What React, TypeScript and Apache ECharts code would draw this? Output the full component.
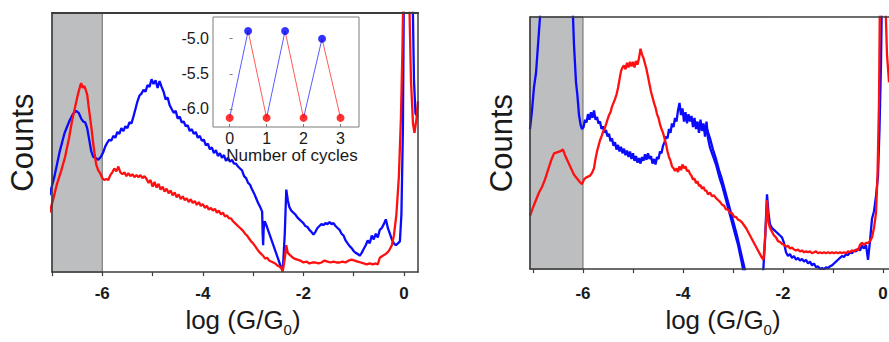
import React, { useEffect, useRef } from "react";
import * as echarts from "echarts";

// ---- axis / tick data ----
const mainTicks = [-7, -6, -5, -4, -3, -2, -1, 0];
const mainLabels = [-6, -4, -2, 0];
const shadeFrom = -7.1;
const shadeTo = -6;
const insetXTicks = [0, 1, 2, 3];
const insetYTicks = [-6.0, -5.5, -5.0];

// ---- inset data (number of cycles vs log G) ----
const insetLowX = [0, 1, 2, 3];
const insetLowY = [-6.13, -6.13, -6.13, -6.13];
const insetHighX = [0.5, 1.5, 2.5];
const insetHighY = [-4.89, -4.89, -5.0];

// ---- left panel histograms [logG, counts] ----
const leftBlue: number[][] = [
  [-7.05, 80], [-6.95, 100], [-6.85, 125], [-6.75, 145], [-6.65, 158], [-6.58, 165], [-6.52, 168], [-6.47, 166],
  [-6.42, 160], [-6.38, 157], [-6.34, 156], [-6.3, 150], [-6.26, 138], [-6.22, 126], [-6.18, 120], [-6.13, 119],
  [-6.08, 117], [-6.03, 120], [-5.98, 125], [-5.94, 131], [-5.9, 135], [-5.86, 138], [-5.82, 137], [-5.78, 142],
  [-5.74, 140], [-5.7, 146], [-5.66, 144], [-5.62, 150], [-5.58, 147], [-5.54, 152], [-5.5, 150], [-5.46, 156],
  [-5.42, 155], [-5.38, 162], [-5.34, 170], [-5.3, 178], [-5.26, 184], [-5.22, 186], [-5.18, 190], [-5.14, 188],
  [-5.1, 195], [-5.06, 193], [-5.02, 201], [-4.98, 196], [-4.94, 200], [-4.9, 192], [-4.86, 199], [-4.82, 193],
  [-4.78, 188], [-4.74, 180], [-4.7, 182], [-4.66, 174], [-4.62, 170], [-4.58, 166], [-4.54, 168], [-4.5, 160],
  [-4.46, 162], [-4.42, 156], [-4.38, 157], [-4.34, 152], [-4.3, 153], [-4.26, 147], [-4.22, 149], [-4.18, 144],
  [-4.14, 146], [-4.1, 140], [-4.06, 142], [-4.02, 137], [-3.98, 138], [-3.94, 132], [-3.9, 134], [-3.86, 128],
  [-3.82, 130], [-3.78, 124], [-3.74, 127], [-3.7, 121], [-3.66, 124], [-3.62, 119], [-3.58, 122], [-3.54, 116],
  [-3.5, 119], [-3.46, 115], [-3.42, 117], [-3.38, 113], [-3.34, 113], [-3.3, 110], [-3.26, 108], [-3.22, 106],
  [-3.18, 100], [-3.14, 98], [-3.1, 93], [-3.06, 91], [-3.02, 86], [-2.98, 82], [-2.94, 77], [-2.9, 72],
  [-2.86, 68], [-2.82, 63], [-2.81, 40], [-2.8, 28], [-2.79, 45], [-2.77, 53], [-2.73, 48], [-2.69, 42],
  [-2.65, 36], [-2.61, 30], [-2.57, 24], [-2.53, 18], [-2.49, 12], [-2.45, 6], [-2.41, 1], [-2.37, 40],
  [-2.34, 86], [-2.31, 75], [-2.28, 68], [-2.24, 64], [-2.2, 62], [-2.16, 60], [-2.12, 57], [-2.08, 55],
  [-2.04, 53], [-2.0, 51], [-1.96, 48], [-1.92, 47], [-1.88, 44], [-1.84, 42], [-1.8, 39], [-1.76, 42],
  [-1.72, 46], [-1.68, 48], [-1.64, 50], [-1.6, 49], [-1.56, 51], [-1.52, 50], [-1.48, 52], [-1.44, 50],
  [-1.4, 51], [-1.36, 48], [-1.32, 46], [-1.28, 44], [-1.24, 40], [-1.2, 38], [-1.16, 33], [-1.12, 30],
  [-1.08, 27], [-1.04, 25], [-1.0, 22], [-0.96, 20], [-0.92, 19], [-0.88, 17], [-0.84, 20], [-0.8, 24],
  [-0.76, 28], [-0.72, 33], [-0.68, 30], [-0.64, 38], [-0.6, 34], [-0.56, 40], [-0.52, 36], [-0.48, 44],
  [-0.44, 46], [-0.4, 50], [-0.36, 55], [-0.32, 46], [-0.28, 40], [-0.24, 34], [-0.2, 30], [-0.16, 28],
  [-0.12, 30], [-0.08, 32], [-0.05, 60], [-0.02, 150], [0.0, 300], [0.17, 300], [0.2, 200], [0.23, 165],
  [0.28, 162],
];

const leftRed: number[][] = [
  [-7.05, 62], [-6.98, 75], [-6.9, 92], [-6.82, 105], [-6.74, 120], [-6.66, 140], [-6.6, 158], [-6.54, 172],
  [-6.48, 186], [-6.44, 194], [-6.42, 197], [-6.39, 192], [-6.36, 194], [-6.33, 190], [-6.3, 185], [-6.27, 172],
  [-6.24, 160], [-6.21, 148], [-6.18, 134], [-6.15, 122], [-6.12, 112], [-6.08, 106], [-6.04, 103], [-6.0, 98],
  [-5.96, 96], [-5.92, 97], [-5.88, 96], [-5.84, 101], [-5.8, 104], [-5.76, 108], [-5.72, 105], [-5.68, 110],
  [-5.64, 104], [-5.6, 102], [-5.56, 104], [-5.52, 100], [-5.48, 103], [-5.44, 100], [-5.4, 102], [-5.36, 99],
  [-5.32, 101], [-5.28, 99], [-5.24, 101], [-5.2, 98], [-5.16, 100], [-5.12, 97], [-5.08, 93], [-5.04, 96],
  [-5.0, 89], [-4.96, 94], [-4.92, 88], [-4.88, 92], [-4.84, 86], [-4.8, 89], [-4.76, 84], [-4.72, 87],
  [-4.68, 82], [-4.64, 85], [-4.6, 80], [-4.56, 83], [-4.52, 78], [-4.48, 81], [-4.44, 76], [-4.4, 79],
  [-4.36, 75], [-4.32, 77], [-4.28, 73], [-4.24, 76], [-4.2, 72], [-4.16, 74], [-4.12, 70], [-4.08, 73],
  [-4.04, 69], [-4.0, 71], [-3.96, 67], [-3.92, 69], [-3.88, 65], [-3.84, 67], [-3.8, 64], [-3.76, 66],
  [-3.72, 62], [-3.68, 64], [-3.64, 60], [-3.6, 62], [-3.56, 58], [-3.52, 59], [-3.48, 56], [-3.44, 56],
  [-3.4, 53], [-3.36, 51], [-3.32, 49], [-3.28, 47], [-3.24, 45], [-3.2, 43], [-3.16, 40], [-3.12, 38],
  [-3.08, 35], [-3.04, 32], [-3.0, 30], [-2.96, 27], [-2.92, 24], [-2.88, 21], [-2.84, 19], [-2.8, 17],
  [-2.76, 14], [-2.72, 15], [-2.68, 12], [-2.64, 11], [-2.6, 10], [-2.56, 9], [-2.52, 7], [-2.48, 6],
  [-2.44, 4], [-2.41, 1], [-2.37, 14], [-2.34, 28], [-2.31, 20], [-2.27, 18], [-2.23, 16], [-2.18, 14],
  [-2.12, 13], [-2.06, 12], [-2.0, 10], [-1.94, 11], [-1.88, 9], [-1.82, 10], [-1.76, 10], [-1.7, 9],
  [-1.64, 10], [-1.58, 12], [-1.52, 11], [-1.46, 10], [-1.4, 11], [-1.34, 10], [-1.28, 10], [-1.22, 11],
  [-1.16, 10], [-1.1, 12], [-1.04, 13], [-0.98, 12], [-0.92, 11], [-0.86, 10], [-0.8, 9], [-0.74, 8],
  [-0.68, 9], [-0.62, 8], [-0.56, 9], [-0.52, 8], [-0.48, 15], [-0.42, 17], [-0.36, 19], [-0.3, 22],
  [-0.24, 28], [-0.2, 38], [-0.15, 60], [-0.1, 100], [-0.06, 160], [-0.03, 230], [-0.01, 300], [0.1, 300],
  [0.14, 200], [0.18, 155], [0.21, 145], [0.25, 160], [0.28, 178],
];

// ---- right panel histograms [logG, counts] ----
const rightBlue: number[][] = [
  [-7.06, 150], [-7.02, 170], [-6.98, 195], [-6.94, 210], [-6.9, 240], [-6.86, 270], [-6.84, 300], [-6.22, 300],
  [-6.18, 240], [-6.14, 200], [-6.11, 185], [-6.08, 165], [-6.05, 155], [-6.02, 150], [-5.99, 152], [-5.96, 160],
  [-5.93, 157], [-5.9, 166], [-5.87, 160], [-5.84, 168], [-5.81, 162], [-5.78, 170], [-5.75, 160], [-5.72, 163],
  [-5.69, 156], [-5.66, 158], [-5.63, 150], [-5.6, 153], [-5.57, 146], [-5.54, 149], [-5.51, 142], [-5.48, 145],
  [-5.45, 137], [-5.42, 140], [-5.39, 132], [-5.36, 136], [-5.33, 128], [-5.3, 133], [-5.27, 126], [-5.24, 131],
  [-5.21, 124], [-5.18, 129], [-5.15, 122], [-5.12, 127], [-5.09, 120], [-5.06, 126], [-5.03, 118], [-5.0, 124],
  [-4.97, 116], [-4.94, 121], [-4.91, 114], [-4.88, 119], [-4.85, 113], [-4.82, 120], [-4.79, 116], [-4.76, 123],
  [-4.73, 117], [-4.7, 124], [-4.67, 118], [-4.64, 121], [-4.61, 113], [-4.58, 118], [-4.55, 112], [-4.52, 120],
  [-4.49, 118], [-4.46, 126], [-4.43, 124], [-4.4, 132], [-4.37, 136], [-4.34, 142], [-4.31, 140], [-4.28, 150],
  [-4.25, 146], [-4.22, 156], [-4.19, 152], [-4.16, 162], [-4.13, 158], [-4.1, 170], [-4.07, 178], [-4.04, 165],
  [-4.01, 172], [-3.98, 158], [-3.95, 168], [-3.92, 156], [-3.89, 166], [-3.86, 158], [-3.83, 164], [-3.8, 152],
  [-3.77, 162], [-3.74, 150], [-3.71, 158], [-3.68, 146], [-3.65, 160], [-3.62, 148], [-3.59, 156], [-3.56, 142],
  [-3.53, 158], [-3.5, 140], [-3.46, 130], [-3.42, 124], [-3.38, 118], [-3.34, 112], [-3.3, 104], [-3.26, 96],
  [-3.22, 90], [-3.18, 82], [-3.14, 74], [-3.1, 66], [-3.06, 58], [-3.02, 50], [-2.98, 42], [-2.94, 34],
  [-2.9, 26], [-2.86, 16], [-2.82, 6], [-2.78, -6], [-2.4, -6], [-2.36, 30], [-2.32, 80], [-2.29, 60],
  [-2.26, 48], [-2.22, 44], [-2.18, 42], [-2.14, 40], [-2.1, 38], [-2.06, 36], [-2.02, 34], [-1.98, 28],
  [-1.94, 18], [-1.9, 14], [-1.86, 16], [-1.82, 12], [-1.78, 14], [-1.74, 10], [-1.7, 12], [-1.66, 9],
  [-1.62, 11], [-1.58, 8], [-1.54, 10], [-1.5, 6], [-1.46, 8], [-1.42, 4], [-1.38, 6], [-1.34, 2],
  [-1.3, 3], [-1.26, 0], [-1.22, 1], [-1.18, 0], [-1.14, 2], [-1.1, 1], [-1.06, 3], [-1.02, 4],
  [-0.98, 6], [-0.94, 8], [-0.9, 10], [-0.86, 12], [-0.82, 14], [-0.78, 13], [-0.74, 16], [-0.7, 15],
  [-0.66, 18], [-0.62, 17], [-0.58, 20], [-0.54, 19], [-0.5, 22], [-0.46, 20], [-0.42, 25], [-0.38, 22],
  [-0.34, 26], [-0.3, 10], [-0.26, 30], [-0.22, 54], [-0.18, 62], [-0.14, 78], [-0.1, 100], [-0.07, 150],
  [-0.04, 220], [-0.02, 300],
];

const rightBlueBand: number[][] = [
  [-3.58, 152], [-3.52, 150], [-3.46, 140], [-3.4, 128], [-3.34, 118], [-3.28, 106], [-3.22, 96], [-3.16, 84],
  [-3.1, 72], [-3.04, 60], [-2.98, 48], [-2.92, 36], [-2.86, 22], [-2.8, 8], [-2.74, -6],
];

const rightRed: number[][] = [
  [-7.06, 57], [-7.0, 66], [-6.94, 74], [-6.88, 82], [-6.82, 88], [-6.76, 96], [-6.7, 106], [-6.64, 116],
  [-6.58, 124], [-6.52, 125], [-6.46, 126], [-6.4, 128], [-6.36, 122], [-6.3, 115], [-6.24, 108], [-6.18, 101],
  [-6.12, 97], [-6.06, 93], [-6.02, 91], [-5.98, 96], [-5.94, 98], [-5.9, 99], [-5.86, 100], [-5.82, 103],
  [-5.78, 108], [-5.75, 118], [-5.72, 126], [-5.69, 132], [-5.66, 138], [-5.63, 142], [-5.6, 147], [-5.57, 150],
  [-5.54, 155], [-5.51, 160], [-5.48, 165], [-5.45, 168], [-5.42, 174], [-5.39, 178], [-5.36, 182], [-5.33, 187],
  [-5.3, 194], [-5.27, 203], [-5.24, 212], [-5.21, 216], [-5.18, 218], [-5.15, 214], [-5.12, 221], [-5.09, 216],
  [-5.06, 222], [-5.03, 217], [-5.0, 222], [-4.97, 216], [-4.94, 223], [-4.91, 219], [-4.88, 226], [-4.85, 236],
  [-4.82, 230], [-4.79, 226], [-4.76, 220], [-4.73, 214], [-4.7, 206], [-4.67, 198], [-4.64, 190], [-4.61, 184],
  [-4.58, 178], [-4.55, 173], [-4.52, 166], [-4.49, 162], [-4.46, 155], [-4.43, 150], [-4.4, 146], [-4.37, 140],
  [-4.34, 134], [-4.31, 126], [-4.28, 120], [-4.25, 116], [-4.22, 110], [-4.19, 108], [-4.16, 105], [-4.13, 108],
  [-4.1, 104], [-4.07, 110], [-4.04, 106], [-4.01, 112], [-3.98, 108], [-3.95, 110], [-3.92, 105], [-3.89, 106],
  [-3.86, 102], [-3.83, 100], [-3.8, 96], [-3.77, 97], [-3.74, 92], [-3.71, 94], [-3.68, 89], [-3.65, 90],
  [-3.62, 86], [-3.59, 88], [-3.56, 84], [-3.53, 84], [-3.5, 80], [-3.46, 82], [-3.42, 78], [-3.38, 79],
  [-3.34, 76], [-3.3, 74], [-3.26, 72], [-3.22, 69], [-3.18, 68], [-3.14, 64], [-3.1, 64], [-3.06, 60],
  [-3.02, 60], [-2.98, 56], [-2.94, 56], [-2.9, 53], [-2.86, 52], [-2.82, 50], [-2.78, 47], [-2.74, 44],
  [-2.7, 40], [-2.66, 36], [-2.62, 32], [-2.58, 28], [-2.54, 24], [-2.5, 20], [-2.46, 16], [-2.42, 12],
  [-2.39, 10], [-2.35, 40], [-2.32, 74], [-2.29, 50], [-2.26, 44], [-2.22, 40], [-2.18, 36], [-2.14, 34],
  [-2.1, 30], [-2.06, 29], [-2.02, 27], [-1.98, 26], [-1.94, 24], [-1.9, 25], [-1.86, 22], [-1.82, 23],
  [-1.78, 21], [-1.74, 20], [-1.7, 21], [-1.66, 19], [-1.62, 20], [-1.58, 18], [-1.54, 19], [-1.5, 18],
  [-1.46, 19], [-1.42, 17], [-1.38, 18], [-1.34, 19], [-1.3, 17], [-1.26, 18], [-1.22, 17], [-1.18, 18],
  [-1.14, 17], [-1.1, 18], [-1.06, 17], [-1.02, 18], [-0.98, 17], [-0.94, 18], [-0.9, 17], [-0.86, 18],
  [-0.82, 17], [-0.78, 18], [-0.74, 17], [-0.7, 19], [-0.66, 18], [-0.62, 20], [-0.58, 19], [-0.54, 21],
  [-0.5, 20], [-0.46, 26], [-0.42, 28], [-0.38, 26], [-0.34, 28], [-0.3, 28], [-0.26, 30], [-0.22, 34],
  [-0.18, 44], [-0.14, 60], [-0.11, 100], [-0.08, 180], [-0.06, 300], [0.04, 300], [0.08, 230], [0.12, 200],
];

const FONT = "Liberation Sans, Arial, Helvetica, sans-serif";
const BLUE = "#0a0aff";
const RED = "#ff1010";
const FRAME = "#3c3c3c";
const INK = "#1a1a1a";

function mainXAxis(gridIndex: number, min: number, max: number, margin: number, gap: number, shift: number) {
  return {
    type: "value", gridIndex, min, max, z: 6,
    axisLine: { show: true, onZero: false, lineStyle: { color: FRAME, width: 1.5 } },
    axisTick: { show: true, customValues: mainTicks, length: 4, lineStyle: { color: FRAME, width: 1.2 } },
    axisLabel: { customValues: mainLabels, fontSize: 17, fontWeight: "bold", color: INK, margin, fontFamily: FONT },
    splitLine: { show: false },
    name: "{n|log (G/G}{s|0}{n|)}",
    nameLocation: "middle",
    nameGap: gap,
    nameTextStyle: {
      fontSize: 26, color: INK, fontFamily: FONT, padding: [0, 0, 0, shift * 2],
      rich: {
        n: { fontSize: 26, fontFamily: FONT, color: INK, lineHeight: 30, verticalAlign: "top" },
        s: { fontSize: 15, fontFamily: FONT, color: INK, lineHeight: 12, verticalAlign: "bottom" },
      },
    },
  };
}
function frameXAxis(gridIndex: number, min: number, max: number, w: number) {
  return {
    type: "value", gridIndex, min, max, position: "top", z: 6,
    axisLine: { show: true, onZero: false, lineStyle: { color: FRAME, width: w } },
    axisTick: { show: false }, axisLabel: { show: false }, splitLine: { show: false },
  };
}
function mainYAxis(gridIndex: number, gap: number) {
  return {
    type: "value", gridIndex, min: 0, max: 270, z: 6,
    axisLine: { show: true, onZero: false, lineStyle: { color: FRAME, width: 1.5 } },
    axisTick: { show: false }, axisLabel: { show: false }, splitLine: { show: false },
    name: "Counts", nameLocation: "middle", nameGap: gap,
    nameTextStyle: { fontSize: 31, color: INK, fontFamily: FONT },
  };
}
function frameYAxis(gridIndex: number) {
  return {
    type: "value", gridIndex, min: 0, max: 270, position: "right", z: 6,
    axisLine: { show: true, onZero: false, lineStyle: { color: FRAME, width: 1.5 } },
    axisTick: { show: false }, axisLabel: { show: false }, splitLine: { show: false },
  };
}

function histLine(data: number[][], color: string, xAxisIndex: number, yAxisIndex: number, extra: any = {}) {
  return {
    type: "line", data, xAxisIndex, yAxisIndex, showSymbol: false, symbol: "none",
    lineStyle: { color, width: 2.3 }, z: 3, clip: true, ...extra,
  };
}

const shade = {
  silent: true,
  itemStyle: { color: "#bdbec0", borderColor: "#6a6a6a", borderWidth: 1 },
  data: [[{ xAxis: shadeFrom }, { xAxis: shadeTo }]],
};

export default function App() {
  const ref = useRef<HTMLDivElement>(null);
  useEffect(() => {
    if (!ref.current) return;
    const chart = echarts.init(ref.current, undefined, { renderer: "svg" });

    const upSegments = insetHighX.map((hx, i) => [[insetLowX[i], insetLowY[i]], [hx, insetHighY[i]]]);
    const downSegments = insetHighX.map((hx, i) => [[hx, insetHighY[i]], [insetLowX[i + 1], insetLowY[i + 1]]]);

    const option: any = {
      animation: false,
      backgroundColor: "#ffffff",
      grid: [
        { left: 52, top: 13, width: 366, height: 270 },
        { left: 213, top: 17, width: 146, height: 110, show: true, backgroundColor: "#ffffff", borderColor: "#7a7a7a", borderWidth: 1, z: 4 },
        { left: 530, top: 17, width: 370, height: 269 },
      ],
      xAxis: [
        mainXAxis(0, -7, 0.28, 13, 27, 8),
        frameXAxis(0, -7, 0.28, 2.2),
        {
          type: "value", gridIndex: 1, min: -0.45, max: 3.5, z: 7,
          axisLine: { show: false },
          axisTick: { show: true, inside: true, customValues: insetXTicks, length: 3, lineStyle: { color: "#7a7a7a" } },
          axisLabel: { customValues: insetXTicks, fontSize: 16, color: INK, margin: 3, fontFamily: FONT },
          splitLine: { show: false },
          name: "Number of cycles", nameLocation: "middle", nameGap: 18,
          nameTextStyle: { fontSize: 17, color: INK, fontFamily: FONT, padding: [0, 0, 0, 12] },
        },
        mainXAxis(2, -7.06, 0.34, 16, 30, 8),
        frameXAxis(2, -7.06, 0.34, 1.5),
      ],
      yAxis: [
        mainYAxis(0, 14),
        frameYAxis(0),
        {
          type: "value", gridIndex: 1, min: -6.26, max: -4.69, z: 7,
          axisLine: { show: false },
          axisTick: { show: true, inside: true, customValues: insetYTicks, length: 3, lineStyle: { color: "#7a7a7a" } },
          axisLabel: {
            customValues: insetYTicks, fontSize: 16, color: INK, margin: 4, fontFamily: FONT,
            formatter: (v: number) => v.toFixed(1),
          },
          splitLine: { show: false },
        },
        mainYAxis(2, 13),
        frameYAxis(2),
      ],
      series: [
        histLine(leftBlue, BLUE, 0, 0, { markArea: shade }),
        histLine(leftRed, RED, 0, 0),
        histLine(rightBlue, BLUE, 3, 3, { markArea: shade }),
        histLine(rightBlueBand, BLUE, 3, 3),
        histLine(rightRed, RED, 3, 3),
        ...upSegments.map((d) => ({
          type: "line", data: d, xAxisIndex: 2, yAxisIndex: 2, showSymbol: false, symbol: "none", z: 5,
          lineStyle: { color: "#5a5aff", width: 1 },
        })),
        ...downSegments.map((d) => ({
          type: "line", data: d, xAxisIndex: 2, yAxisIndex: 2, showSymbol: false, symbol: "none", z: 5,
          lineStyle: { color: "#ff5a5a", width: 1 },
        })),
        {
          type: "scatter", xAxisIndex: 2, yAxisIndex: 2, z: 6, symbolSize: 8,
          data: insetLowX.map((x, i) => [x, insetLowY[i]]),
          itemStyle: { color: "#ff0000" },
        },
        {
          type: "scatter", xAxisIndex: 2, yAxisIndex: 2, z: 6, symbolSize: 8,
          data: insetHighX.map((x, i) => [x, insetHighY[i]]),
          itemStyle: { color: "#0000ff" },
        },
      ],
    };
    chart.setOption(option);
    return () => chart.dispose();
  }, []);

  return (
    <div style={{ position: "fixed", left: 0, top: 0, width: 889, height: 342, overflow: "hidden", background: "#fff" }}>
      <div ref={ref} style={{ width: 910, height: 342 }} />
    </div>
  );
}
